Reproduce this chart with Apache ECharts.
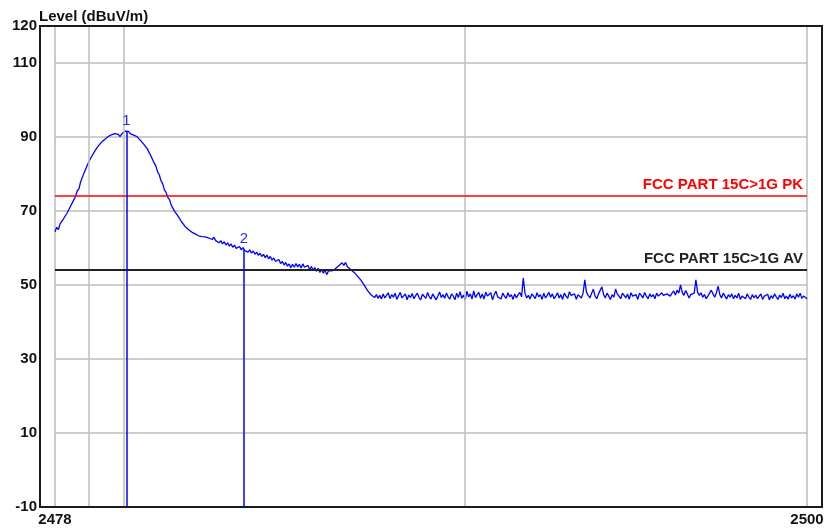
<!DOCTYPE html>
<html>
<head>
<meta charset="utf-8">
<script src="https://cdn.jsdelivr.net/npm/echarts@6/dist/echarts.min.js"></script>
<style>
html,body{margin:0;padding:0;background:#fff;}
#chart{width:831px;height:531px;}
</style>
</head>
<body>
<div id="chart"></div>
<script>
// ---- data ----
const freqStart = 2478;   // MHz
const freqStep = 0.05;    // MHz
const level = [
  // 2478.00 - 2478.95
  64.4, 65.6, 65.0, 66.6, 66.8, 67.9, 68.2, 69.4, 69.8, 71.2, 71.5, 73.0, 74.0, 75.4, 76.0, 77.9, 78.4, 80.3, 80.8, 82.5,
  // 2479
  82.8, 84.4, 84.6, 86.0, 86.1, 87.4, 87.3, 88.5, 88.4, 89.3, 89.3, 90.1, 89.9, 90.6, 90.3, 90.9, 90.5, 90.7, 90.1, 90.8,
  // 2480
  91.1, 91.6, 91.3, 91.5, 90.9, 91.1, 90.5, 90.8, 90.1, 90.0, 89.1, 89.0, 88.0, 87.8, 86.8, 86.3, 85.0, 84.6, 83.0, 82.2,
  // 2481
  80.6, 79.8, 78.2, 77.4, 75.7, 75.0, 73.7, 73.1, 71.6, 71.2, 69.9, 69.6, 68.6, 68.2, 67.1, 67.0, 65.9, 65.8, 65.0, 65.0,
  // 2482
  64.3, 64.2, 63.8, 63.9, 63.3, 63.8, 63.1, 63.4, 63.0, 63.0, 62.7, 62.8, 62.3, 62.9, 62.0, 62.1, 61.4, 62.0, 61.1, 61.7,
  // 2483
  60.8, 61.4, 60.5, 61.1, 60.2, 60.8, 59.9, 60.0, 60.4, 59.5, 60.1, 59.3, 59.8, 58.9, 59.5, 58.6, 59.2, 58.3, 58.9, 58.0,
  // 2484
  58.6, 57.7, 58.3, 57.4, 58.1, 57.1, 57.7, 56.7, 57.3, 56.4, 56.1, 56.9, 55.8, 56.4, 55.4, 56.1, 55.1, 55.7, 54.7, 55.6,
  // 2485
  54.8, 55.8, 54.9, 55.6, 54.6, 55.7, 54.8, 54.4, 55.3, 54.2, 55.0, 54.0, 54.7, 53.7, 54.5, 53.4, 54.2, 53.2, 54.0, 52.8,
  // 2486
  53.8, 53.7, 53.8, 54.1, 54.4, 54.5, 55.2, 55.2, 56.0, 55.3, 56.1, 55.0, 55.2, 54.2, 54.2, 53.4, 53.2, 52.4, 52.2, 51.3,
  // 2487.00 - 2487.45
  51.0, 49.9, 49.5, 48.4, 48.3, 47.3, 47.5, 46.6, 47.4, 46.4,
  // 2487.50 - 2488.45
  47.2, 46.2, 47.6, 46.5, 47.0, 47.9, 46.3, 47.4, 46.7, 47.8, 46.1, 47.1, 48.0, 46.5, 46.9, 47.6, 46.0, 47.3, 46.6, 47.7,
  // 2488.50
  46.3, 47.1, 47.8, 46.6, 46.0, 47.5, 47.0, 46.4, 48.0, 46.8, 46.2, 47.6, 47.2, 46.0, 47.0, 48.1, 46.6, 47.4, 46.4, 47.8,
  // 2489.50
  46.8, 46.2, 47.6, 47.0, 46.0, 47.8, 46.6, 48.2, 46.4, 47.3, 45.9, 48.3, 46.8, 47.6, 46.2, 48.4, 46.6, 47.4, 48.0, 46.4,
  // 2490.50
  47.6, 46.2, 48.1, 47.0, 46.5, 47.9, 46.0, 47.4, 48.3, 46.8, 47.2, 46.2, 47.8, 47.0, 46.4, 47.9, 46.8, 47.4, 46.1, 47.6,
  // 2491.50
  46.5, 47.4, 48.0, 46.8, 51.9, 47.8, 46.5, 47.2, 46.2, 47.6, 47.0, 46.3, 47.9, 46.8, 47.4, 46.1, 47.8, 46.5, 47.2, 48.0,
  // 2492.50
  46.7, 47.6, 46.3, 47.0, 47.9, 46.5, 47.4, 46.1, 47.8, 47.0, 46.4, 48.2, 47.2, 46.7, 47.6, 46.1, 47.4, 47.9, 46.5, 47.8,
  // 2493.50
  51.4, 48.0, 47.2, 46.5, 47.8, 48.9, 47.0, 46.3, 47.6, 48.0, 49.5, 47.4, 46.5, 47.8, 47.0, 46.1, 47.4, 46.7, 48.9, 47.6,
  // 2494.50
  47.0, 46.3, 47.8, 47.2, 46.5, 47.6, 46.1, 47.9, 47.0, 46.7, 47.4, 46.1, 47.8, 47.2, 46.5, 48.0, 47.0, 46.3, 47.6, 46.8,
  // 2495.50
  47.4, 46.3, 47.8, 47.0, 46.5, 47.9, 47.2, 46.7, 47.6, 48.1, 47.0, 47.8, 48.4, 47.3, 48.6, 47.8, 50.0, 48.0, 47.2, 48.5,
  // 2496.50
  47.6, 46.5, 47.4, 47.0, 47.8, 51.4, 48.0, 47.2, 47.9, 46.7, 47.4, 46.3, 47.0, 46.6, 48.6, 47.6, 46.7, 47.9, 49.7, 47.4,
  // 2497.50
  46.5, 47.8, 47.0, 46.2, 47.4, 46.7, 47.6, 46.3, 47.2, 46.5, 47.8, 46.1, 47.0, 47.5, 46.3, 47.6, 46.7, 46.1, 47.4, 46.5,
  // 2498.50
  47.3, 46.3, 46.8, 47.6, 46.1, 47.0, 46.5, 47.5, 46.0, 47.1, 46.4, 47.6, 46.8, 46.1, 47.3, 46.6, 47.8, 46.3, 47.0, 46.2,
  // 2499.50 - 2500.00
  47.5, 46.5, 47.1, 46.2, 47.6, 46.7, 47.8, 46.4, 47.0, 47.4, 46.3
];

const limitNames = ['FCC PART 15C>1G PK', 'FCC PART 15C>1G AV'];
const limitValues = [74, 54];

const markerNames = ['1', '2'];
const markerFreq = [2480.09, 2483.53];
const markerLevel = [91.4, 59.6];

const xMin = 2478, xMax = 2500;
const xGridValues = [2479, 2480, 2490];
const yMin = -10, yMax = 120, yStep = 20;
const yTitle = 'Level (dBuV/m)';

// ---- chart ----
const traceData = level.map((v, i) => [+(freqStart + i * freqStep).toFixed(2), v]);
const limitColors = ['#ff0000', '#222222'];
const gridGray = '#bcbcbc';
const font = 'Liberation Sans, Arial, sans-serif';

const chart = echarts.init(document.getElementById('chart'), null, {renderer: 'canvas'});
chart.setOption({
  animation: false,
  backgroundColor: '#ffffff',
  title: {
    text: yTitle, left: 34, top: 4,
    textStyle: {fontFamily: font, fontSize: 15, fontWeight: 'bold', color: '#111'}
  },
  grid: [
    {left: 55, right: 24, top: 26, bottom: 24, show: true, borderColor: gridGray, borderWidth: 1.5, backgroundColor: 'transparent', z: 0},
    {left: 40, right: 9, top: 26, bottom: 24, show: true, borderColor: '#1a1a1a', borderWidth: 2, backgroundColor: 'transparent', z: 10}
  ],
  xAxis: [
    {
      type: 'value', gridIndex: 0, min: xMin, max: xMax, interval: xMax - xMin,
      axisLine: {show: false}, axisTick: {show: false}, splitLine: {show: false},
      axisLabel: {fontFamily: font, fontSize: 15, fontWeight: 'bold', color: '#111', margin: 5,
                  showMinLabel: true, showMaxLabel: true, formatter: v => String(v)}
    },
    {type: 'value', gridIndex: 1, min: 0, max: 1, show: false}
  ],
  yAxis: [
    {
      type: 'value', gridIndex: 0, min: yMin, max: yMax, interval: yStep,
      axisLine: {show: false}, axisTick: {show: false},
      splitLine: {show: true, lineStyle: {color: gridGray, width: 1.5}},
      axisLabel: {fontFamily: font, fontSize: 15, fontWeight: 'bold', color: '#111', margin: 18,
                  showMinLabel: true, showMaxLabel: true, formatter: v => String(v)}
    },
    {type: 'value', gridIndex: 1, min: 0, max: 1, show: false}
  ],
  series: [
    {
      name: 'grid', type: 'line', xAxisIndex: 0, yAxisIndex: 0, data: [], z: 1, silent: true,
      markLine: {
        silent: true, symbol: 'none', animation: false,
        lineStyle: {color: gridGray, width: 1.5, type: 'solid'},
        label: {show: false},
        data: xGridValues.map(v => ({xAxis: v}))
      }
    },
    {
      name: 'limits', type: 'line', xAxisIndex: 0, yAxisIndex: 0, data: [], z: 2, silent: true,
      markLine: {
        silent: true, symbol: 'none', animation: false,
        data: limitValues.map((v, i) => ({
          yAxis: v,
          lineStyle: {color: limitColors[i], width: i === 0 ? 1.5 : 2, type: 'solid'},
          label: {show: true, position: 'insideEndTop', formatter: limitNames[i], distance: [4, 4],
                  color: limitColors[i], fontFamily: font, fontSize: 15, fontWeight: 'bold'}
        }))
      }
    },
    {
      name: 'trace', type: 'line', xAxisIndex: 0, yAxisIndex: 0, data: traceData, z: 3,
      showSymbol: false, symbol: 'none',
      lineStyle: {color: '#0000ff', width: 1.3},
      markLine: {
        silent: true, symbol: 'none', animation: false,
        lineStyle: {color: '#0000ff', width: 1.5, type: 'solid'},
        label: {show: true, position: 'end', color: '#2a2aff', fontFamily: font, fontSize: 15, distance: 3},
        data: markerFreq.map((f, i) => [
          {coord: [f, yMin]},
          {coord: [f, markerLevel[i]], label: {formatter: markerNames[i]}}
        ])
      }
    }
  ]
});
</script>
</body>
</html>
